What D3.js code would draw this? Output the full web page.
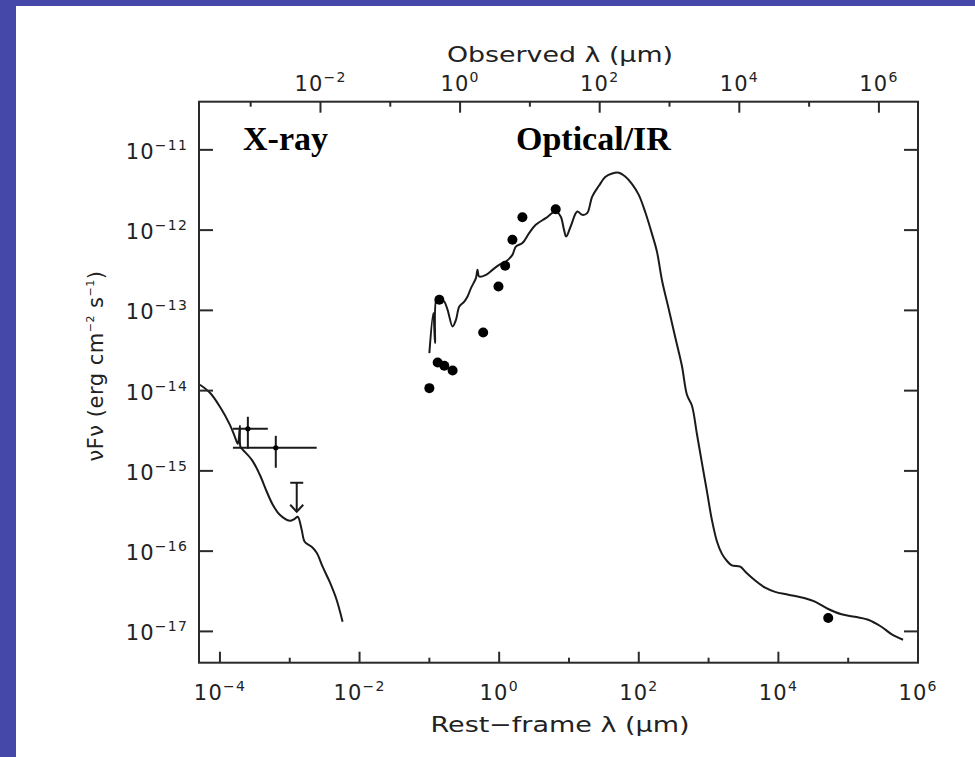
<!DOCTYPE html>
<html>
<head>
<meta charset="utf-8">
<script src="https://cdn.jsdelivr.net/npm/d3@7"></script>
<style>
  html, body { margin: 0; padding: 0; background: #4547a9; }
  svg { display: block; }
</style>
</head>
<body>
<svg id="chart" width="975" height="757"></svg>
<script>
// Broad-band SED, rest frame. Values are log10(λ / μm) and log10(νFν / erg cm^-2 s^-1).

// X-ray model (with the Fe Kα spike)
const xrayModelLogLam  = [-4.286, -4.143, -4.000, -3.857, -3.786, -3.743, -3.714, -3.706, -3.671, -3.543, -3.429, -3.329, -3.243, -3.143, -3.000, -2.929, -2.886, -2.829, -2.786, -2.686, -2.614, -2.529, -2.429, -2.329, -2.243];
const xrayModelLogFlux = [-13.927, -14.027, -14.201, -14.426, -14.575, -14.662, -14.438, -14.700, -14.737, -14.862, -15.048, -15.260, -15.422, -15.547, -15.621, -15.597, -15.572, -15.733, -15.883, -15.945, -16.020, -16.194, -16.381, -16.605, -16.879];

// Optical / IR / radio model
const sedModelLogLam = [-1.000, -0.943, -0.919, -0.893, -0.833, -0.786, -0.739, -0.667, -0.619, -0.571, -0.500, -0.453, -0.404, -0.333, -0.310, -0.286, -0.190, -0.096, 0.000, 0.096, 0.190, 0.239, 0.333, 0.429, 0.524, 0.667, 0.810, 0.881, 0.929, 0.961, 1.024, 1.119, 1.190, 1.261, 1.333, 1.429, 1.524, 1.619, 1.714, 1.810, 1.904, 2.000, 2.096, 2.190, 2.261, 2.333, 2.429, 2.524, 2.619, 2.690, 2.761, 2.833, 2.904, 2.976, 3.047, 3.119, 3.190, 3.261, 3.333, 3.453, 3.524, 3.667, 3.810, 3.953, 4.143, 4.381, 4.524, 4.714, 4.904, 5.096, 5.286, 5.476, 5.619, 5.786];
const sedModelLogFlux = [-13.533, -13.034, -13.408, -12.847, -12.868, -12.890, -12.993, -13.201, -13.118, -12.952, -12.890, -12.827, -12.723, -12.598, -12.495, -12.578, -12.557, -12.495, -12.432, -12.391, -12.308, -12.205, -12.162, -12.038, -11.934, -11.851, -11.769, -11.831, -11.997, -12.080, -11.955, -11.769, -11.810, -11.788, -11.582, -11.448, -11.336, -11.294, -11.285, -11.336, -11.427, -11.561, -11.784, -12.050, -12.271, -12.628, -12.984, -13.341, -13.696, -14.052, -14.185, -14.541, -14.898, -15.253, -15.609, -15.876, -16.031, -16.120, -16.178, -16.194, -16.254, -16.365, -16.455, -16.507, -16.543, -16.588, -16.630, -16.721, -16.787, -16.818, -16.855, -16.942, -17.033, -17.104];

// Photometry (optical, IR, radio)
const photLogLam  = [-1.000, -0.881, -0.786, -0.667, -0.857, -0.229, -0.010, 0.086, 0.190, 0.333, 0.810, 4.714];
const photLogFlux = [-13.969, -13.649, -13.691, -13.749, -12.868, -13.276, -12.703, -12.445, -12.121, -11.839, -11.739, -16.833];

// X-ray detections with error bars
const xrayLogLam     = [-3.600, -3.200];
const xrayLogLamLo   = [-3.814, -3.814];
const xrayLogLamHi   = [-3.314, -2.614];
const xrayLogFlux    = [-14.475, -14.712];
const xrayLogFluxLo  = [-14.724, -14.961];
const xrayLogFluxHi  = [-14.326, -14.563];

// X-ray upper limit
const limitLogLam  = [-2.900];
const limitLogFlux = [-15.148];

const redshift = 2.63;

// Axis ticks (exponents)
const restTickExp  = [-4, -3, -2, -1, 0, 1, 2, 3, 4, 5, 6];
const obsTickExp   = [-3, -2, -1, 0, 1, 2, 3, 4, 5, 6];
const fluxTickExp  = [-11, -12, -13, -14, -15, -16, -17];

(function draw() {
  const svg = d3.select("#chart");
  const ink = "#1a1a1a";
  const axisFont = "'DejaVu Sans', sans-serif";

  // page panel
  svg.append("rect").attr("x", 16).attr("y", 6).attr("width", 959).attr("height", 751).attr("fill", "#ffffff");

  const x0 = 199, x1 = 918, y0 = 101.7, y1 = 662.7;

  const x = d3.scaleLog().domain([10 ** -4.3, 1e6]).range([x0, x1]);
  const xObs = d3.scaleLog().domain([10 ** -4.3 * (1 + redshift), 1e6 * (1 + redshift)]).range([x0, x1]);
  const y = d3.scaleLog().domain([10 ** -17.39, 10 ** -10.4]).range([y1, y0]);

  const P = v => 10 ** v;
  const sgn = e => (e < 0 ? "\u2212" : "") + Math.abs(e);

  function powerLabel(g, exp, supSize, supRise) {
    g.append("tspan").text("10");
    g.append("tspan").attr("font-size", supSize).attr("dy", -supRise).text(sgn(exp));
  }

  // ---- curves ----
  const line = d3.line()
    .x(d => x(P(d[0])))
    .y(d => y(P(d[1])))
    .curve(d3.curveCatmullRom.alpha(0.5));

  const plot = svg.append("g");

  plot.append("path")
    .datum(xrayModelLogLam.map((l, i) => [l, xrayModelLogFlux[i]]))
    .attr("d", line).attr("fill", "none").attr("stroke", ink).attr("stroke-width", 2);

  plot.append("path")
    .datum(sedModelLogLam.map((l, i) => [l, sedModelLogFlux[i]]))
    .attr("d", line).attr("fill", "none").attr("stroke", ink).attr("stroke-width", 2);

  // ---- photometry ----
  plot.selectAll("circle.phot")
    .data(photLogLam.map((l, i) => [l, photLogFlux[i]]))
    .join("circle")
    .attr("class", "phot")
    .attr("cx", d => x(P(d[0])))
    .attr("cy", d => y(P(d[1])))
    .attr("r", 5)
    .attr("fill", "#000");

  // ---- X-ray points ----
  xrayLogLam.forEach((l, i) => {
    const cx = x(P(l)), cy = y(P(xrayLogFlux[i]));
    plot.append("line").attr("x1", x(P(xrayLogLamLo[i]))).attr("x2", x(P(xrayLogLamHi[i])))
      .attr("y1", cy).attr("y2", cy).attr("stroke", ink).attr("stroke-width", 2);
    plot.append("line").attr("x1", cx).attr("x2", cx)
      .attr("y1", y(P(xrayLogFluxLo[i]))).attr("y2", y(P(xrayLogFluxHi[i])))
      .attr("stroke", ink).attr("stroke-width", 2);
    plot.append("circle").attr("cx", cx).attr("cy", cy).attr("r", 2.6).attr("fill", "#000");
  });

  // ---- upper limit ----
  limitLogLam.forEach((l, i) => {
    const cx = x(P(l)), cy = y(P(limitLogFlux[i]));
    const tip = cy + 29, w = 6.5;
    plot.append("line").attr("x1", cx - w).attr("x2", cx + w).attr("y1", cy).attr("y2", cy)
      .attr("stroke", ink).attr("stroke-width", 2);
    plot.append("line").attr("x1", cx).attr("x2", cx).attr("y1", cy).attr("y2", tip)
      .attr("stroke", ink).attr("stroke-width", 2);
    plot.append("path").attr("d", `M${cx - w},${tip - 7}L${cx},${tip}L${cx + w},${tip - 7}`)
      .attr("fill", "none").attr("stroke", ink).attr("stroke-width", 2);
  });

  // ---- frame ----
  const axisG = svg.append("g").attr("stroke", "#2a2a2a").attr("stroke-width", 2);
  axisG.append("rect").attr("x", x0).attr("y", y0).attr("width", x1 - x0).attr("height", y1 - y0)
    .attr("fill", "none");

  restTickExp.forEach(e => {
    const len = e % 2 === 0 ? 11 : 5;
    const px = x(P(e));
    axisG.append("line").attr("x1", px).attr("x2", px).attr("y1", y1).attr("y2", y1 - len);
  });
  obsTickExp.forEach(e => {
    const len = e % 2 === 0 ? 11 : 5;
    const px = xObs(P(e));
    axisG.append("line").attr("x1", px).attr("x2", px).attr("y1", y0).attr("y2", y0 + len);
  });
  fluxTickExp.forEach(e => {
    const py = y(P(e));
    axisG.append("line").attr("x1", x0).attr("x2", x0 + 14).attr("y1", py).attr("y2", py);
    axisG.append("line").attr("x1", x1).attr("x2", x1 - 14).attr("y1", py).attr("y2", py);
  });

  // ---- tick labels ----
  const labels = svg.append("g").attr("font-family", axisFont).attr("fill", "#222")
    .attr("font-size", 21).attr("letter-spacing", 1.2);

  restTickExp.filter(e => e % 2 === 0).forEach(e => {
    const t = labels.append("text").attr("x", x(P(e))).attr("y", 700).attr("text-anchor", "middle");
    powerLabel(t, e, 14, 9);
  });
  obsTickExp.filter(e => e % 2 === 0).forEach(e => {
    const t = labels.append("text").attr("x", xObs(P(e))).attr("y", 91).attr("text-anchor", "middle");
    powerLabel(t, e, 14, 9);
  });
  fluxTickExp.forEach(e => {
    const t = labels.append("text").attr("x", 188).attr("y", y(P(e)) + 9).attr("text-anchor", "end");
    powerLabel(t, e, 14, 9);
  });

  // ---- axis titles ----
  labels.append("text").attr("x", 560).attr("y", 62).attr("text-anchor", "middle").attr("font-size", 21)
    .attr("letter-spacing", 0)
    .attr("textLength", 226).attr("lengthAdjust", "spacingAndGlyphs")
    .text("Observed \u03bb (\u03bcm)");

  labels.append("text").attr("x", 560).attr("y", 732).attr("text-anchor", "middle").attr("font-size", 21)
    .attr("letter-spacing", 0)
    .attr("textLength", 259).attr("lengthAdjust", "spacingAndGlyphs")
    .text("Rest\u2212frame \u03bb (\u03bcm)");

  const yl = labels.append("text").attr("transform", "translate(103,366) rotate(-90)")
    .attr("text-anchor", "middle").attr("font-size", 21).attr("letter-spacing", 0.5);
  yl.append("tspan").text("\u03bdF\u03bd (erg cm");
  yl.append("tspan").attr("font-size", 11).attr("dy", -9).text("\u22122");
  yl.append("tspan").attr("dy", 9).text(" s");
  yl.append("tspan").attr("font-size", 11).attr("dy", -9).text("\u22121");
  yl.append("tspan").attr("dy", 9).text(")");

  // ---- band annotations ----
  const ann = svg.append("g").attr("font-family", "'Liberation Serif', 'Times New Roman', serif")
    .attr("font-weight", "bold").attr("font-size", 34).attr("fill", "#000");
  ann.append("text").attr("x", 243).attr("y", 150).text("X-ray");
  ann.append("text").attr("x", 516).attr("y", 150).text("Optical/IR");
})();
</script>
</body>
</html>
